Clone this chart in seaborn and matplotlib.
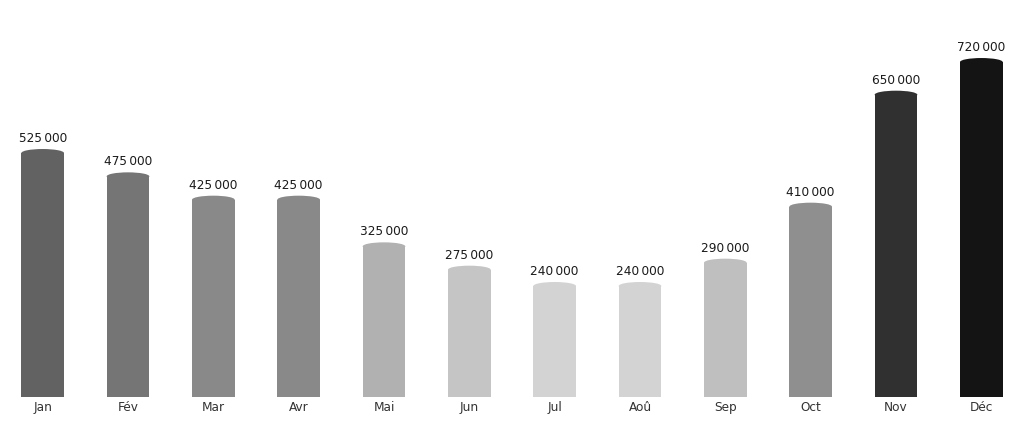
import pandas as pd
import matplotlib
matplotlib.use("Agg")
import matplotlib.pyplot as plt
import seaborn as sns
from matplotlib.patches import Ellipse

# Monthly values
months = ["Jan", "Fév", "Mar", "Avr", "Mai", "Jun",
          "Jul", "Aoû", "Sep", "Oct", "Nov", "Déc"]
values = [525000, 475000, 425000, 425000, 325000, 275000,
          240000, 240000, 290000, 410000, 650000, 720000]

df = pd.DataFrame({"mois": months, "valeur": values})

# grey level goes darker as the value grows
vmin, vmax = min(values), max(values)
def grey(v):
    g = 211 - (v - vmin) / (vmax - vmin) * (211 - 20)
    g = int(round(g)) / 255
    return (g, g, g)
palette = [grey(v) for v in values]

sns.set_theme(style="white")
plt.rcParams['font.family'] = ['DejaVu Sans']

fig = plt.figure(figsize=(10.24, 4.22), dpi=100)
ax = fig.add_axes([0, 25 / 422, 1, 397 / 422])

sns.barplot(data=df, x="mois", y="valeur", hue="mois", palette=palette,
            width=0.5, legend=False, ax=ax, saturation=1)

unit_px = 2143  # data units per pixel
ymin, ymax = -3 * unit_px, 394 * unit_px
ax.set_ylim(ymin, ymax)
ax.set_xlim(-0.5, 11.5)

cap = 4 * unit_px
for p, v, c in zip(ax.patches, values, palette):
    p.set_y(ymin)
    p.set_height(v - cap - ymin)
    p.set_edgecolor("none")
    x = p.get_x() + p.get_width() / 2
    ax.add_patch(Ellipse((x, v - cap), p.get_width(), 2 * cap,
                         facecolor=c, edgecolor="none"))
    lbl = f"{v:,}".replace(",", "\u2009")
    ax.text(x, v + 7 * unit_px, lbl, ha="center", va="baseline",
            fontsize=8.7, color="#1a1a1a")

sns.despine(ax=ax, left=True, bottom=True)
ax.set_xlabel("")
ax.set_ylabel("")
ax.set_yticks([])
ax.tick_params(axis="x", length=0, pad=3, labelsize=8.7, labelcolor="#333333")

fig.savefig("out.png", dpi=100, facecolor="white")
